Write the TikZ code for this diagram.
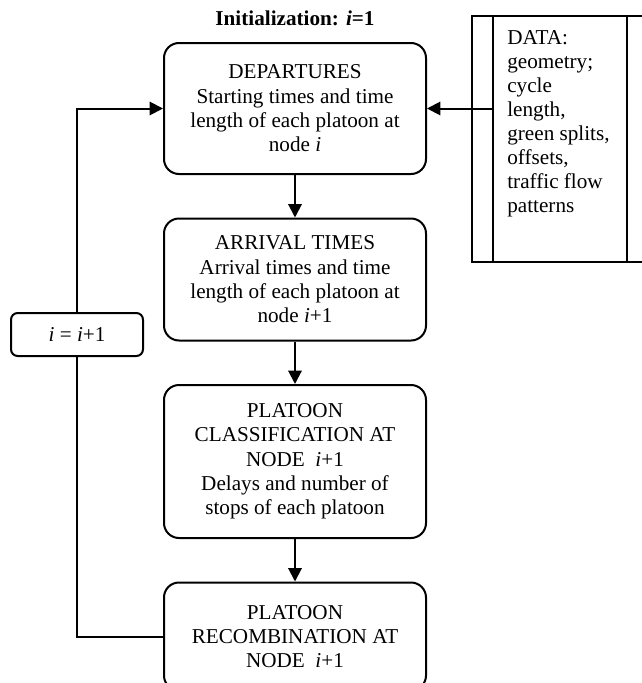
\documentclass[tikz,border=0pt]{standalone}
\usepackage{fontspec}
\setmainfont{Liberation Serif}
\usepackage{tikz}
\usetikzlibrary{positioning, arrows.meta, calc}

\begin{document}
\begin{tikzpicture}[
    x=1pt, y=1pt,
    node distance=25.5pt,
    every node/.style={font=\fontsize{12.7}{14.6}\selectfont},
    stage/.style={draw, rounded corners=9pt, line width=1.2pt,
                  minimum width=157.2pt, align=center, inner sep=2pt},
    counter/.style={draw, rounded corners=4pt, line width=1.2pt,
                    minimum width=79.2pt, minimum height=25.8pt},
    datafile/.style={draw, line width=1.2pt, minimum width=105.6pt,
                     minimum height=147.3pt},
    arrow/.style={-{Triangle[length=8pt, width=8pt]}, line width=1.2pt},
    link/.style={line width=1.2pt},
]
\useasboundingbox (0,0) rectangle (385.2,-409.8);

% Title
\node[font=\fontsize{12.7}{14.6}\selectfont\bfseries] (title) at (177,-10.8)
      {Initialization: \textit{i}=1};

% Main chain
\node[stage, minimum height=78.6pt] (dep) at (177,-65.1)
      {DEPARTURES\\Starting times and time\\length of each platoon at\\node \textit{i}};
\node[stage, minimum height=73.2pt, below=of dep] (arr)
      {ARRIVAL TIMES\\Arrival times and time\\length of each platoon at\\node \textit{i}+1};
\node[stage, minimum height=91.8pt, below=of arr] (cls)
      {PLATOON\\CLASSIFICATION AT\\NODE\ \ \textit{i}+1\\Delays and number of\\stops of each platoon};
\node[stage, minimum height=64.8pt, below=of cls] (rec)
      {PLATOON\\RECOMBINATION AT\\NODE\ \ \textit{i}+1};

% Counter
\node[counter] (inc) at (46.2,-200.7) {\textit{i} = \textit{i}+1};

% Data input
\node[datafile] (data) at (336,-83.25) {};
\coordinate (datain) at ([xshift=13.2pt]data.north west);
\coordinate (dataout) at ([xshift=-13.2pt]data.north east);
\draw[link] (datain) -- (datain |- data.south);
\draw[link] (dataout) -- (dataout |- data.south);
\node[anchor=north west, align=left, inner sep=0pt,
      font=\fontsize{12.7}{14.4}\selectfont] (datatext)
      at ([xshift=21.6pt, yshift=-9pt]data.north west)
      {DATA:\\geometry;\\cycle\\length,\\green splits,\\offsets,\\traffic flow\\patterns};

% Arrows
\draw[arrow] (dep) -- (arr);
\draw[arrow] (arr) -- (cls);
\draw[arrow] (cls) -- (rec);
\draw[arrow] (datain |- dep.east) -- (dep.east);
\draw[link] (rec.west) -| (inc.south);
\draw[arrow] (inc.north) |- (dep.west);

\end{tikzpicture}
\end{document}
